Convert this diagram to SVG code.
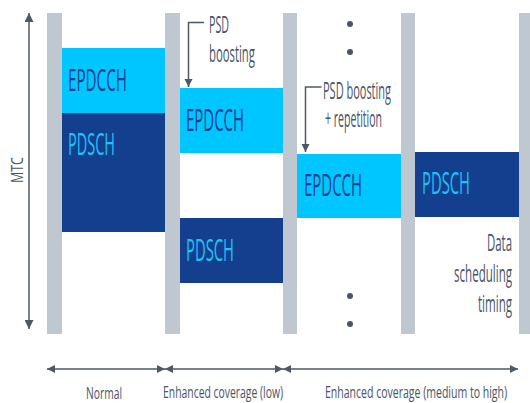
<svg xmlns="http://www.w3.org/2000/svg" width="530" height="403" viewBox="0 0 530 403">
<defs>
<style>
.bar{fill:#bfc7d0}
.lt{fill:#00c6ff}
.dk{fill:#143f8e}
.tl{font-family:"Open Sans","Liberation Sans",sans-serif;font-size:31px;fill:#1a3f8f}
.td{font-family:"Open Sans","Liberation Sans",sans-serif;font-size:31px;fill:#1cc3f7}
.ann{font-family:"Open Sans","Liberation Sans",sans-serif;font-size:23px;fill:#4a5466}
.lab{font-family:"Open Sans","Liberation Sans",sans-serif;font-size:17px;fill:#4a5466}
.ln{fill:none;stroke:#4f5866;stroke-width:1.5}
.dot{fill:#4a5466}
</style>
<marker id="ah" viewBox="0 0 10 10" refX="10" refY="5" markerWidth="8" markerHeight="10" markerUnits="userSpaceOnUse" orient="auto-start-reverse">
<path d="M0,0 L10,5 L0,10 Z" fill="#4f5866"/>
</marker>
<marker id="ah2" viewBox="0 0 10 10" refX="10" refY="5" markerWidth="12" markerHeight="9" markerUnits="userSpaceOnUse" orient="auto-start-reverse">
<path d="M0,0 L10,5 L0,10 Z" fill="#4f5866"/>
</marker>
</defs>
<rect width="530" height="403" fill="#ffffff"/>
<g id="bars">
<rect class="bar" x="47" y="13" width="15" height="321"/>
<rect class="bar" x="165" y="13" width="15" height="321"/>
<rect class="bar" x="283" y="13" width="14" height="321"/>
<rect class="bar" x="401" y="13" width="14" height="321"/>
<rect class="bar" x="519" y="13" width="14" height="321"/>
</g>
<g id="normal-epdcch"><rect class="lt" x="62" y="48" width="103" height="65"/><text class="tl" transform="translate(68,91) scale(0.497,1)" textLength="118.6" lengthAdjust="spacingAndGlyphs">EPDCCH</text></g>
<g id="normal-pdsch"><rect class="dk" x="62" y="113" width="103" height="119"/><text class="td" transform="translate(68,155) scale(0.476,1)" textLength="98.8" lengthAdjust="spacingAndGlyphs">PDSCH</text></g>
<g id="low-epdcch"><rect class="lt" x="180" y="88" width="103" height="65"/><text class="tl" transform="translate(186,131) scale(0.489,1)" textLength="118.6" lengthAdjust="spacingAndGlyphs">EPDCCH</text></g>
<g id="low-pdsch"><rect class="dk" x="180" y="218" width="103" height="65"/><text class="td" transform="translate(186,261) scale(0.486,1)" textLength="98.8" lengthAdjust="spacingAndGlyphs">PDSCH</text></g>
<g id="high-epdcch"><rect class="lt" x="297" y="154" width="104" height="64"/><text class="tl" transform="translate(304,196) scale(0.489,1)" textLength="118.6" lengthAdjust="spacingAndGlyphs">EPDCCH</text></g>
<g id="high-pdsch"><rect class="dk" x="415" y="152" width="104" height="65"/><text class="td" transform="translate(422,194) scale(0.486,1)" textLength="98.8" lengthAdjust="spacingAndGlyphs">PDSCH</text></g>
<g id="psd-boosting">
<text class="ann" transform="translate(209,0) scale(0.48,1)"><tspan x="0" y="33" textLength="41.7" lengthAdjust="spacingAndGlyphs">PSD</tspan><tspan x="0" y="62" textLength="95.8" lengthAdjust="spacingAndGlyphs">boosting</tspan></text>
</g>
<g id="psd-boosting-repetition">
<text class="ann" transform="translate(323,0) scale(0.47,1)"><tspan x="0" y="99" textLength="144.7" lengthAdjust="spacingAndGlyphs">PSD boosting</tspan><tspan x="4.3" y="127" textLength="121.3" lengthAdjust="spacingAndGlyphs">+ repetition</tspan></text>
</g>
<g id="data-timing">
<text class="ann" transform="translate(454,0) scale(0.5,1)"><tspan x="66" y="251" textLength="50" lengthAdjust="spacingAndGlyphs">Data</tspan><tspan x="0" y="282" textLength="116" lengthAdjust="spacingAndGlyphs">scheduling</tspan><tspan x="48" y="312" textLength="68" lengthAdjust="spacingAndGlyphs">timing</tspan></text>
</g>
<g id="dots"><circle class="dot" cx="350" cy="24" r="3"/><circle class="dot" cx="350" cy="52" r="3"/><circle class="dot" cx="350" cy="296" r="3"/><circle class="dot" cx="350" cy="324" r="3"/></g>
<g id="mtc-label"><text class="lab" transform="translate(23,183) rotate(-90)" font-size="14" textLength="26" lengthAdjust="spacingAndGlyphs">MTC</text></g>
<g id="labels">
<text class="lab" transform="translate(86,399) scale(0.606,1)" textLength="59.4" lengthAdjust="spacingAndGlyphs">Normal</text>
<text class="lab" transform="translate(163,398) scale(0.612,1)" textLength="196.1" lengthAdjust="spacingAndGlyphs">Enhanced coverage (low)</text>
<text class="lab" transform="translate(325,398) scale(0.619,1)" textLength="294.2" lengthAdjust="spacingAndGlyphs">Enhanced coverage (medium to high)</text>
</g>
<g id="connectors">
<path class="ln" d="M29,329 V13" stroke-width="1.3" marker-start="url(#ah2)" marker-end="url(#ah2)"/>
<path class="ln" d="M204,22.5 H188.5 V87" marker-end="url(#ah)"/>
<path class="ln" d="M321.5,87 H305.5 V152" marker-end="url(#ah)"/>
<path class="ln" d="M47,369 H165" stroke-width="2" marker-start="url(#ah)" marker-end="url(#ah)"/>
<path class="ln" d="M165,369 H283" stroke-width="2" marker-start="url(#ah)" marker-end="url(#ah)"/>
<path class="ln" d="M283,369 H518" stroke-width="2" marker-start="url(#ah)" marker-end="url(#ah)"/>
</g>
</svg>
